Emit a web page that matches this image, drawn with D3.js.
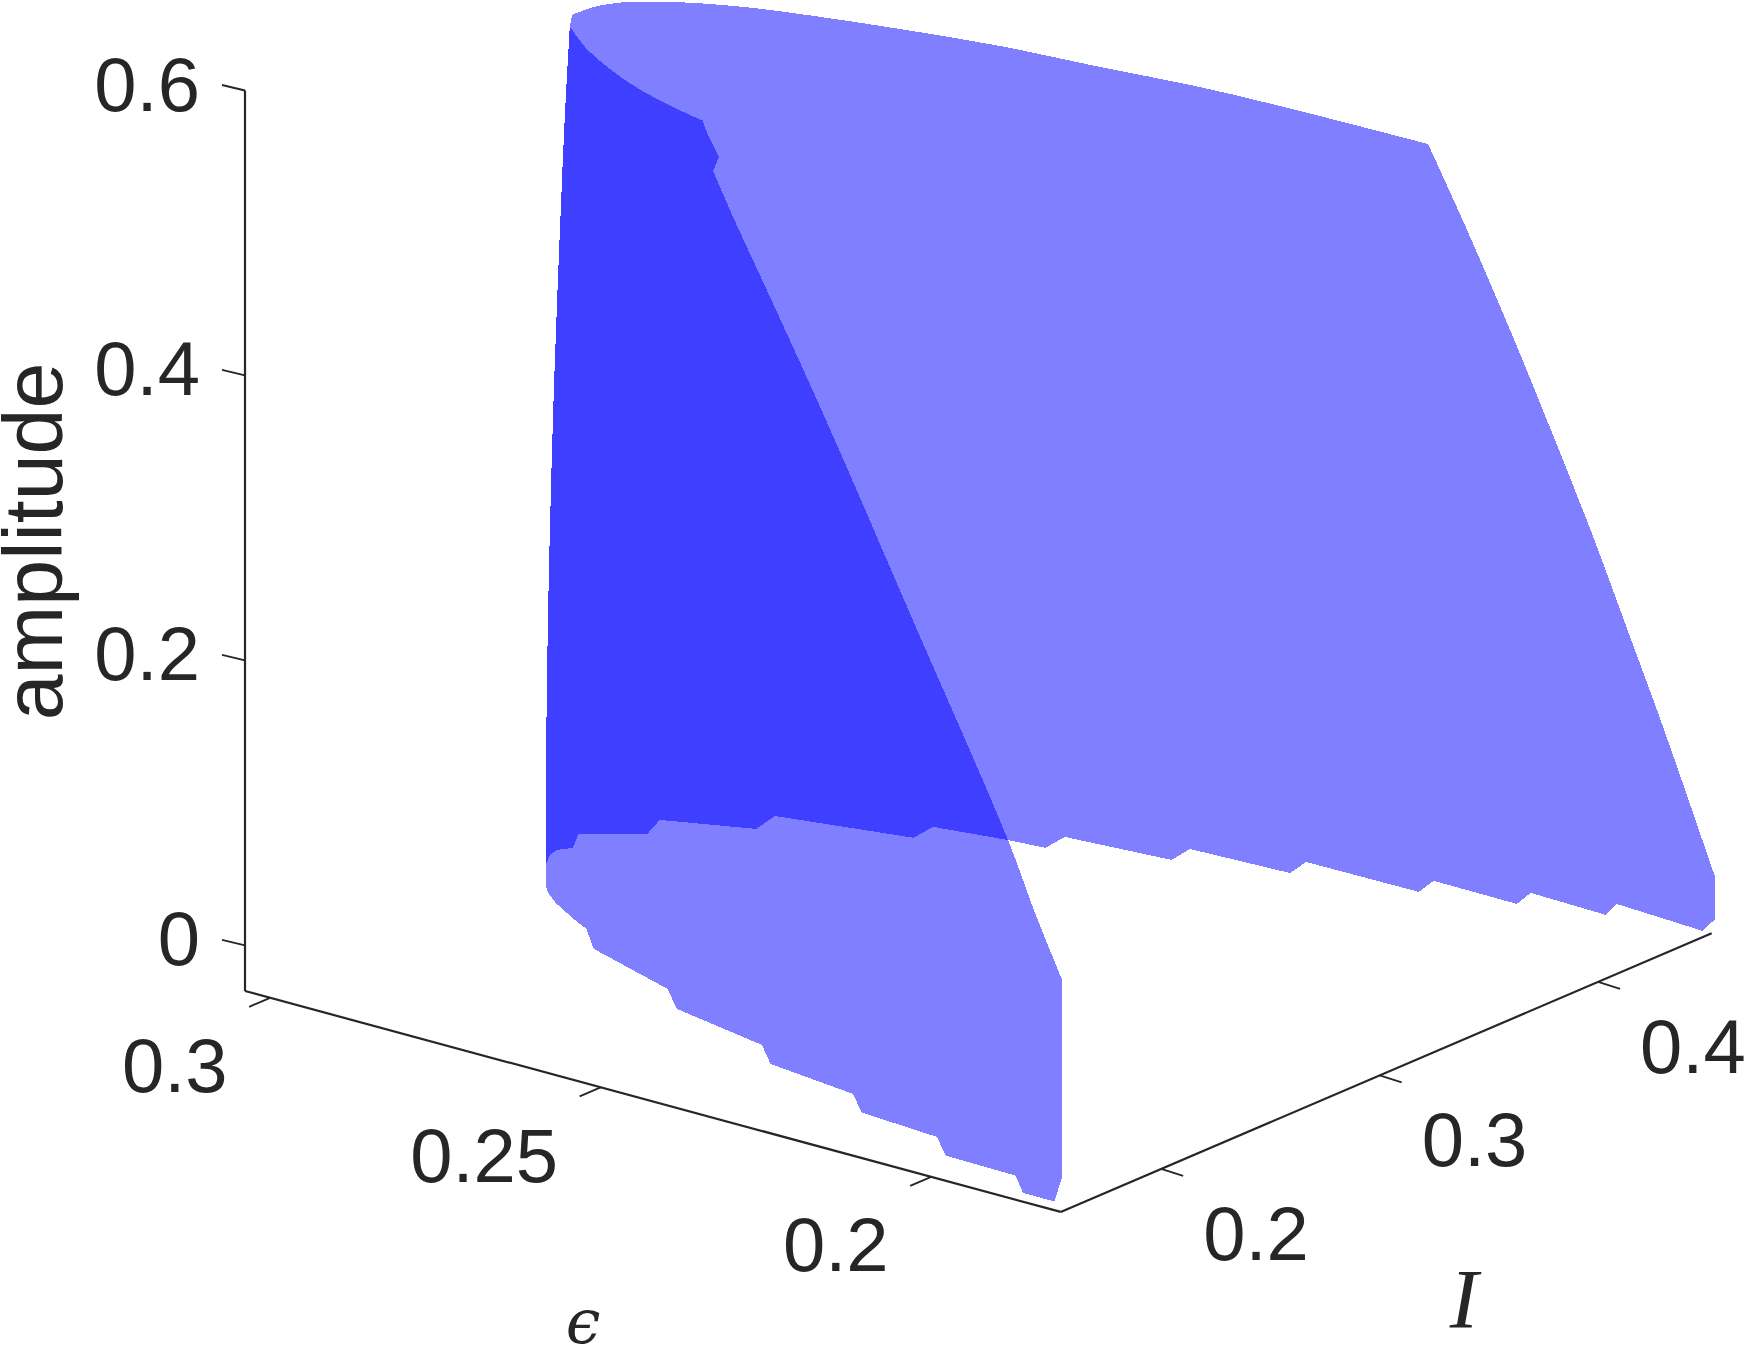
<!DOCTYPE html>
<html>
<head>
<meta charset="utf-8">
<script src="https://d3js.org/d3.v7.min.js"></script>
<style>
  html, body { margin: 0; padding: 0; background: #fff; overflow: hidden; }
  svg { display: block; }
  text { font-family: "Liberation Sans", Arial, sans-serif; fill: #262626; }
</style>
</head>
<body>
<div id="chart"></div>
<script>
// Tick values for the three axes
const iTicks = [0.2, 0.3, 0.4];
const epsTicks = [0.3, 0.25, 0.2];
const ampTicks = [0, 0.2, 0.4, 0.6];

// Axis limits
const iLimits = [0.154, 0.452];
const epsLimits = [0.3038, 0.1804];
const ampLimits = [-0.032, 0.6];

// Back sheet: top edge
const backTopI = [0.2600, 0.2600, 0.2616, 0.2648, 0.2704, 0.2773, 0.2803, 0.2879, 0.2931, 0.2982, 0.3026, 0.3105, 0.3171, 0.3211, 0.3257, 0.3277, 0.3288];
const backTopEps = [0.2897, 0.2895, 0.2898, 0.2898, 0.2896, 0.2883, 0.2873, 0.2833, 0.2795, 0.2746, 0.2689, 0.2564, 0.2435, 0.2297, 0.2161, 0.2016, 0.1826];
const backTopAmp = [0.5928, 0.598, 0.6, 0.6, 0.6, 0.6, 0.6, 0.6, 0.6, 0.6, 0.6, 0.6, 0.6, 0.6, 0.6, 0.6, 0.6];

// Back sheet: right edge, where epsilon stays at its lowest value
const backRightI = [0.3288, 0.3463, 0.3679, 0.3860, 0.4039, 0.4213, 0.4364, 0.4602];
const backRightEps = [0.1826, 0.1826, 0.1826, 0.1826, 0.1826, 0.1826, 0.1826, 0.1826];
const backRightAmp = [0.6, 0.5295, 0.4382, 0.3582, 0.2771, 0.1934, 0.1203, -0.0006];

// Back sheet: jagged lower edge
const backLowI = [0.4602, 0.4501, 0.4525, 0.4434, 0.4445, 0.4348, 0.4352, 0.4253, 0.4249, 0.4148, 0.4128, 0.4024, 0.3985, 0.3879, 0.3864, 0.3817, 0.3711, 0.3608, 0.3490, 0.3378, 0.3263, 0.3143, 0.3040, 0.3000, 0.2954, 0.2881];
const backLowEps = [0.1826, 0.1811, 0.1949, 0.1936, 0.2053, 0.2042, 0.2169, 0.2159, 0.2328, 0.2319, 0.2464, 0.2457, 0.2606, 0.2600, 0.2652, 0.2750, 0.2744, 0.2920, 0.2909, 0.3018, 0.2999, 0.3063, 0.3038, 0.3048, 0.3044, 0.3026];
const backLowAmp = [-0.0301, -0.03, -0.03, -0.03, -0.03, -0.03, -0.03, -0.03, -0.03, -0.03, -0.03, -0.03, -0.03, -0.03, -0.03, -0.03, -0.03, -0.03, -0.03, -0.03, -0.03, -0.03, -0.03, -0.03, -0.03, -0.03];

// Left edge, shared by both sheets
const leftI = [0.26, 0.26, 0.26, 0.26, 0.26, 0.26, 0.26];
const leftEps = [0.2933, 0.2933, 0.2930, 0.2922, 0.2910, 0.2904, 0.2897];
const leftAmp = [0.0001, 0.0598, 0.1724, 0.3208, 0.4697, 0.5335, 0.5928];

// Front sheet: upper curve
const frontCurveI = [0.2532, 0.2418, 0.2350, 0.2297, 0.2255, 0.2222, 0.2196, 0.2173, 0.2155];
const frontCurveEps = [0.2874, 0.2811, 0.2763, 0.2721, 0.2682, 0.2646, 0.2612, 0.2579, 0.2549];
const frontCurveAmp = [0.6, 0.6, 0.6, 0.6, 0.6, 0.6, 0.6, 0.6, 0.6];

// Front sheet: notch below the curve
const frontNotchI = [0.2155, 0.2070, 0.1945, 0.1843, 0.161];
const frontNotchEps = [0.2549, 0.2513, 0.2455, 0.2430, 0.2323];
const frontNotchAmp = [0.6, 0.6, 0.6, 0.6, 0.5965];

// Front sheet: falling edge, where I stays near its lowest value
const frontFallI = [0.161, 0.161, 0.161, 0.161, 0.161, 0.161];
const frontFallEps = [0.2323, 0.2191, 0.2051, 0.1907, 0.1866, 0.1825];
const frontFallAmp = [0.5965, 0.4797, 0.3479, 0.2116, 0.1655, 0.1236];

// Front sheet: jagged lower edge
const frontLowI = [0.161, 0.1578, 0.1579, 0.1679, 0.1686, 0.1793, 0.1819, 0.1926, 0.1976, 0.2085, 0.2170, 0.2285, 0.2416, 0.2534, 0.2572, 0.2650, 0.2703, 0.2737];
const frontLowEps = [0.1825, 0.1826, 0.1874, 0.1918, 0.2026, 0.2075, 0.2197, 0.2246, 0.2387, 0.2436, 0.2593, 0.2645, 0.2800, 0.2850, 0.2880, 0.2935, 0.2964, 0.2978];
const frontLowAmp = [-0.0147, -0.03, -0.03, -0.03, -0.03, -0.03, -0.03, -0.03, -0.03, -0.03, -0.03, -0.03, -0.03, -0.03, -0.03, -0.03, -0.03, -0.03];

const width = 1745,
      height = 1345;
const originX = 245;

const svg = d3.select("#chart")
  .append("svg")
  .attr("width", width)
  .attr("height", height);

// Each data axis moves a point on screen along its own direction
const iToX = d3.scaleLinear().domain(iLimits).range([0, 651]);
const iToY = d3.scaleLinear().domain(iLimits).range([0, -278.6]);
const epsToX = d3.scaleLinear().domain(epsLimits).range([0, 815.7]);
const epsToY = d3.scaleLinear().domain(epsLimits).range([0, 220.9]);
const ampToY = d3.scaleLinear().domain(ampLimits).range([991, 90.5]);

function project(i, eps, amp) {
  return [originX + iToX(i) + epsToX(eps), ampToY(amp) + iToY(i) + epsToY(eps)];
}

const curved = d3.line().curve(d3.curveCatmullRom);
const straight = d3.line();

// One edge of a sheet as a path piece, later pieces continue the earlier ones
function edge(line, is, epss, amps) {
  return line(is.map((v, k) => project(v, epss[k], amps[k])));
}
function joinEdges(pieces) {
  return pieces.map((d, k) => k === 0 ? d : "L" + d.slice(1)).join("") + "Z";
}

// Draw the two see-through sheets, the overlap comes out darker
const sheets = [
  joinEdges([
    edge(curved, backTopI, backTopEps, backTopAmp),
    edge(curved, backRightI, backRightEps, backRightAmp),
    edge(straight, backLowI, backLowEps, backLowAmp),
    edge(curved, leftI, leftEps, leftAmp)
  ]),
  joinEdges([
    edge(curved, frontCurveI, frontCurveEps, frontCurveAmp),
    edge(straight, frontNotchI, frontNotchEps, frontNotchAmp),
    edge(curved, frontFallI, frontFallEps, frontFallAmp),
    edge(straight, frontLowI, frontLowEps, frontLowAmp),
    edge(curved, leftI, leftEps, leftAmp)
  ])
];

svg.selectAll("path.sheet")
  .data(sheets)
  .enter()
  .append("path")
  .attr("class", "sheet")
  .attr("d", d => d)
  .attr("fill", "#0000ff")
  .attr("fill-opacity", 0.5)
  .attr("shape-rendering", "crispEdges");

// Axis lines along the box edges
const axisLines = [
  [project(iLimits[0], epsLimits[0], ampLimits[0]), project(iLimits[0], epsLimits[0], ampLimits[1])],
  [project(iLimits[0], epsLimits[0], ampLimits[0]), project(iLimits[0], epsLimits[1], ampLimits[0])],
  [project(iLimits[0], epsLimits[1], ampLimits[0]), project(iLimits[1], epsLimits[1], ampLimits[0])]
];

svg.selectAll("line.axis")
  .data(axisLines)
  .enter()
  .append("line")
  .attr("class", "axis")
  .attr("x1", d => d[0][0])
  .attr("y1", d => d[0][1])
  .attr("x2", d => d[1][0])
  .attr("y2", d => d[1][1])
  .attr("stroke", "#262626")
  .attr("stroke-width", 2.2);

// Draws the ticks and labels of one axis
function drawTicks(values, toPoint, tick, label, anchor) {
  const g = svg.append("g");
  g.selectAll("line")
    .data(values)
    .enter()
    .append("line")
    .attr("x1", d => toPoint(d)[0])
    .attr("y1", d => toPoint(d)[1])
    .attr("x2", d => toPoint(d)[0] + tick[0])
    .attr("y2", d => toPoint(d)[1] + tick[1])
    .attr("stroke", "#262626")
    .attr("stroke-width", 1.8);
  g.selectAll("text")
    .data(values)
    .enter()
    .append("text")
    .attr("x", d => toPoint(d)[0] + label[0])
    .attr("y", d => toPoint(d)[1] + label[1])
    .attr("text-anchor", anchor)
    .attr("font-size", 76)
    .text(d => d);
}

drawTicks(ampTicks, d => project(iLimits[0], epsLimits[0], d), [-23, -5.5], [-45, 20], "end");
drawTicks(epsTicks, d => project(iLimits[0], d, ampLimits[0]), [-21, 9], [-42.5, 94.5], "end");
drawTicks(iTicks, d => project(d, epsLimits[1], ampLimits[0]), [22, 7], [42, 91], "start");

// Axis titles
svg.append("text")
  .attr("transform", "translate(62, 541.5) rotate(-90)")
  .attr("text-anchor", "middle")
  .attr("font-size", 82.5)
  .text("amplitude");

svg.append("text")
  .attr("x", 583)
  .attr("y", 1343)
  .attr("text-anchor", "middle")
  .attr("font-size", 62)
  .style("font-family", "'DejaVu Serif', serif")
  .style("font-style", "italic")
  .text("\u03f5");

svg.append("text")
  .attr("x", 1464)
  .attr("y", 1328)
  .attr("text-anchor", "middle")
  .attr("font-size", 85)
  .style("font-family", "'Liberation Serif', serif")
  .style("font-style", "italic")
  .text("I");
</script>
</body>
</html>
